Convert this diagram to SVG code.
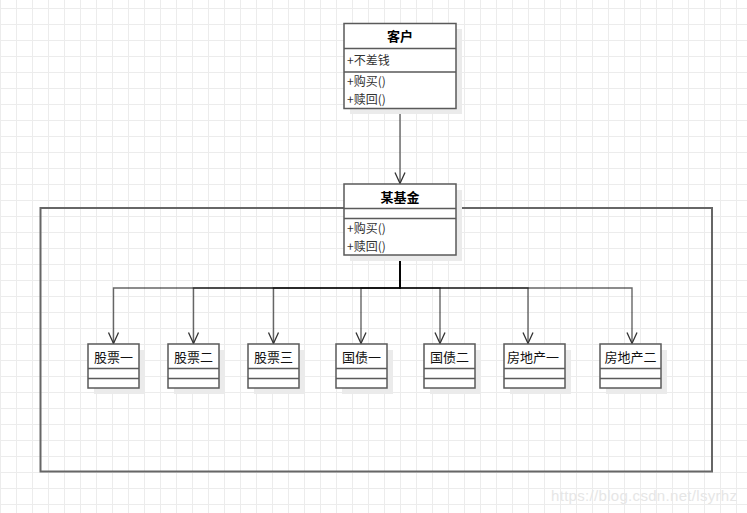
<svg xmlns="http://www.w3.org/2000/svg" width="747" height="513" viewBox="0 0 747 513">
<style>
.box{fill:#fff;stroke:#5a5a5a;stroke-width:1.5}
.sh{fill:#ebebeb}
.sep{stroke:#5a5a5a;stroke-width:1.5;fill:none}
.t{font-family:"Noto Sans CJK SC","Liberation Sans",sans-serif;font-size:13px;fill:#000;text-anchor:middle;font-weight:bold}
.n{font-family:"Noto Sans CJK SC","Liberation Sans",sans-serif;font-size:13px;fill:#111;text-anchor:middle}
.m{font-family:"Noto Sans CJK SC","Liberation Sans",sans-serif;font-size:12px;fill:#333}
.c{fill:none;stroke:#000;stroke-opacity:0.6;stroke-width:1.4}
</style>
<defs>
<pattern id="grid" patternUnits="userSpaceOnUse" x="0" y="8" width="16" height="16">
<path d="M0.5,0 V16 M0,0.5 H16" stroke="#ececec" stroke-width="1" fill="none"/>
</pattern>
<marker id="arr" markerUnits="userSpaceOnUse" viewBox="-12 -7 14 14" refX="0" refY="0" markerWidth="14" markerHeight="14" orient="auto">
<path d="M-11,-5 L0,0 L-11,5" fill="none" stroke="#333" stroke-width="1.3"/>
</marker>
</defs>
<rect width="747" height="513" fill="#fff"/>
<rect width="747" height="513" fill="url(#grid)"/>

<g id="frame">
<rect x="40.5" y="208" width="671.5" height="263.5" fill="none" stroke="#666" stroke-width="2"/>
</g>

<g id="connectors">
<path class="c" d="M400,108 V183.5" marker-end="url(#arr)"/>
<path class="c" d="M400,255 V288 H113.5 V343.5" marker-end="url(#arr)"/>
<path class="c" d="M400,255 V288 H193.5 V343.5" marker-end="url(#arr)"/>
<path class="c" d="M400,255 V288 H273.5 V343.5" marker-end="url(#arr)"/>
<path class="c" d="M400,255 V288 H361 V343.5" marker-end="url(#arr)"/>
<path class="c" d="M400,255 V288 H440 V343.5" marker-end="url(#arr)"/>
<path class="c" d="M400,255 V288 H528 V343.5" marker-end="url(#arr)"/>
<path class="c" d="M400,255 V288 H632 V343.5" marker-end="url(#arr)"/>
</g>

<g id="kehu">
<rect class="sh" x="350" y="29" width="112" height="85"/>
<rect class="box" x="344" y="23.5" width="112" height="85"/>
<path class="sep" d="M344,48.5 H456 M344,72 H456"/>
<text class="t" x="400" y="40.5">客户</text>
<text class="m" x="347" y="64.5">+不差钱</text>
<text class="m" x="347" y="86.2">+购买()</text>
<text class="m" x="347" y="103.8">+赎回()</text>
</g>

<g id="fund">
<rect class="sh" x="350" y="190" width="112" height="71"/>
<rect class="box" x="344" y="184" width="112" height="71"/>
<path class="sep" d="M344,208.5 H456 M344,218.5 H456"/>
<text class="t" x="400" y="201.5">某基金</text>
<text class="m" x="347" y="233.2">+购买()</text>
<text class="m" x="347" y="250.8">+赎回()</text>
</g>

<g id="gupiao1">
<rect class="sh" x="94" y="350" width="51" height="44"/>
<rect class="box" x="88" y="344" width="51" height="44"/>
<path class="sep" d="M88,368.5 H139 M88,378.5 H139"/>
<text class="n" x="113.5" y="361.5">股票一</text>
</g>
<g id="gupiao2">
<rect class="sh" x="174" y="350" width="51" height="44"/>
<rect class="box" x="168" y="344" width="51" height="44"/>
<path class="sep" d="M168,368.5 H219 M168,378.5 H219"/>
<text class="n" x="193.5" y="361.5">股票二</text>
</g>
<g id="gupiao3">
<rect class="sh" x="254" y="350" width="51" height="44"/>
<rect class="box" x="248" y="344" width="51" height="44"/>
<path class="sep" d="M248,368.5 H299 M248,378.5 H299"/>
<text class="n" x="273.5" y="361.5">股票三</text>
</g>
<g id="guozhai1">
<rect class="sh" x="342" y="350" width="51" height="44"/>
<rect class="box" x="336" y="344" width="51" height="44"/>
<path class="sep" d="M336,368.5 H387 M336,378.5 H387"/>
<text class="n" x="361.5" y="361.5">国债一</text>
</g>
<g id="guozhai2">
<rect class="sh" x="430" y="350" width="51" height="44"/>
<rect class="box" x="424" y="344" width="51" height="44"/>
<path class="sep" d="M424,368.5 H475 M424,378.5 H475"/>
<text class="n" x="449.5" y="361.5">国债二</text>
</g>
<g id="fangdichan1">
<rect class="sh" x="510" y="350" width="61" height="44"/>
<rect class="box" x="504" y="344" width="61" height="44"/>
<path class="sep" d="M504,368.5 H565 M504,378.5 H565"/>
<text class="n" x="533" y="361.5">房地产一</text>
</g>
<g id="fangdichan2">
<rect class="sh" x="606" y="350" width="61" height="44"/>
<rect class="box" x="600" y="344" width="61" height="44"/>
<path class="sep" d="M600,368.5 H661 M600,378.5 H661"/>
<text class="n" x="630.5" y="361.5">房地产二</text>
</g>

<text x="551" y="501" font-family="'Liberation Sans',Arial,sans-serif" font-size="15" fill="#e6e6e6" textLength="186">https://blog.csdn.net/lsyrhz</text>
</svg>
